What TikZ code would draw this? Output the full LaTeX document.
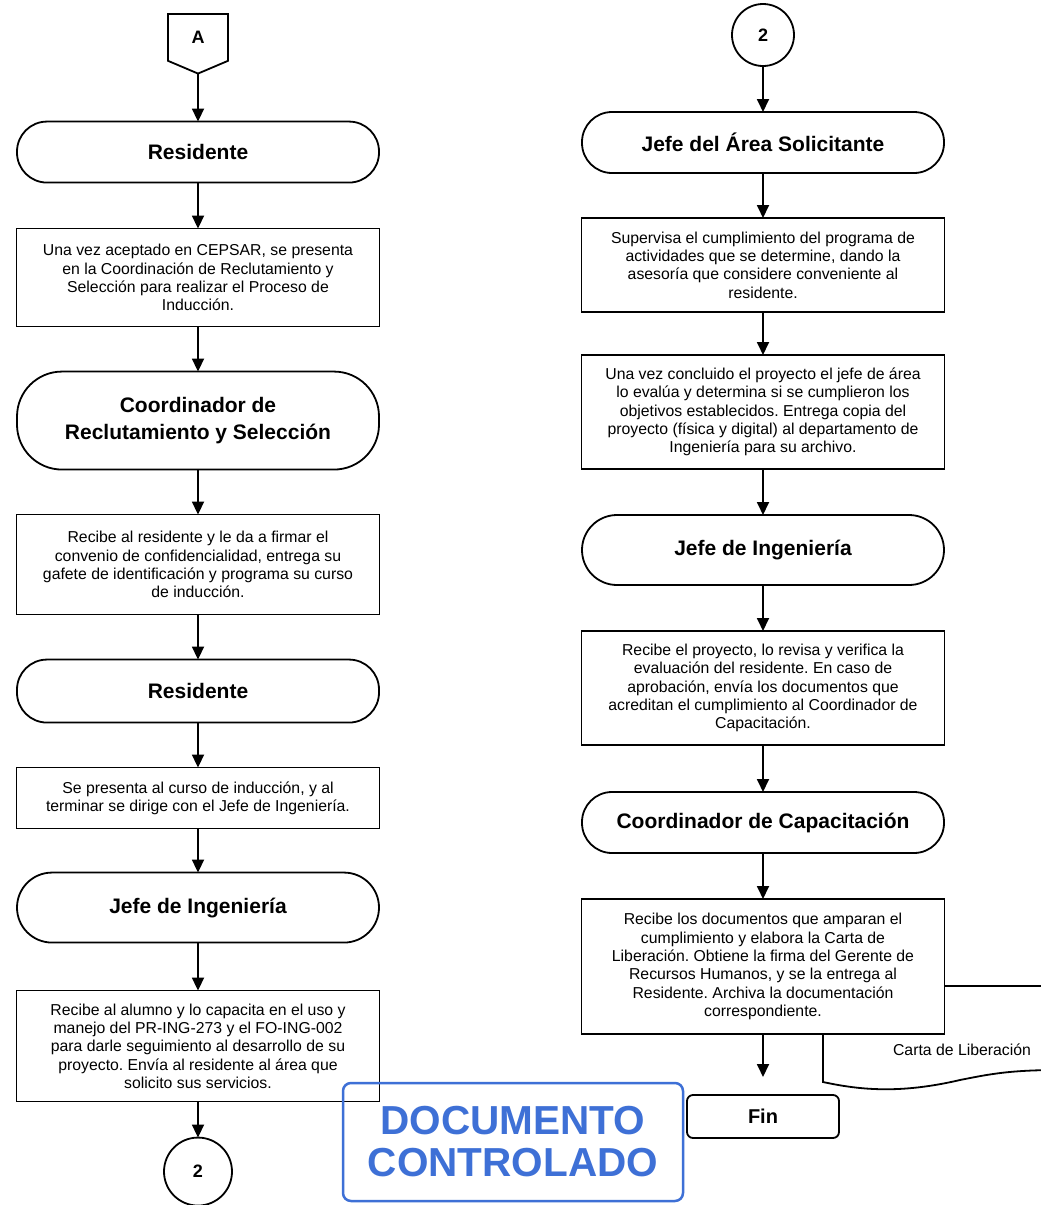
\documentclass[tikz,border=0pt]{standalone}
\usepackage{fontspec}
\setmainfont{Liberation Sans}
\usetikzlibrary{positioning, arrows.meta, shapes.symbols}

\definecolor{stampblue}{RGB}{62,112,214}
\frenchspacing

\begin{document}
\begin{tikzpicture}[
          x=1pt, y=-1pt,
          node distance=45pt,
          every node/.style={align=center, line width=1.8pt, outer sep=0pt},
          term/.style={draw, fill=white, rounded corners=30pt, minimum width=362pt, minimum height=61pt, font=\fontsize{21}{26.5}\selectfont\bfseries}, % responsible person
          actbox/.style={draw, fill=white, minimum width=363pt, inner sep=4pt, font=\fontsize{15.8}{18.3}\selectfont}, % activity
          conn/.style={draw, circle, fill=white, minimum size=62pt, font=\fontsize{18}{20}\selectfont\bfseries}, % on-page connector
          arr/.style={draw, line width=1.8pt, -{Triangle[length=13pt,width=12pt]}}
        ]
        \clip (0,0) rectangle (1041,1205);
        \fill[white] (0,0) rectangle (1041,1205);

        % left column
        \node[signal, signal to=south, signal pointer angle=134, draw, fill=white, minimum width=60pt, minimum height=51pt, anchor=north, font=\fontsize{18}{20}\selectfont\bfseries] (conA) at (198,14) {A};
        \node[term, below=48pt of conA] (res1) {Residente};
        \node[actbox, minimum height=98pt, below=46pt of res1] (act1) {Una vez aceptado en CEPSAR, se presenta\\en la Coordinación de Reclutamiento y\\Selección para realizar el Proceso de\\Inducción.};
        \node[term, minimum height=98pt, rounded corners=45pt, below=of act1] (coord) {Coordinador de\\Reclutamiento y Selección};
        \node[actbox, minimum height=100pt, below=of coord] (act2) {Recibe al residente y le da a firmar el\\convenio de confidencialidad, entrega su\\gafete de identificación y programa su curso\\de inducción.};
        \node[term, minimum height=63pt, below=of act2] (res2) {Residente};
        \node[actbox, minimum height=61pt, below=of res2] (act3) {Se presenta al curso de inducción, y al\\terminar se dirige con el Jefe de Ingeniería.};
        \node[term, minimum height=70pt, rounded corners=35pt, below=44pt of act3] (jing1) {Jefe de Ingeniería};
        \node[actbox, minimum height=111pt, below=48pt of jing1] (act4) {Recibe al alumno y lo capacita en el uso y\\manejo del PR-ING-273 y el FO-ING-002\\para darle seguimiento al desarrollo de su\\proyecto. Envía al residente al área que\\solicito sus servicios.};
        \node[conn, minimum size=68pt, below=36pt of act4] (con2a) {2};

        \draw[arr] (conA) -- (res1);
        \draw[arr] (res1) -- (act1);
        \draw[arr] (act1) -- (coord);
        \draw[arr] (coord) -- (act2);
        \draw[arr] (act2) -- (res2);
        \draw[arr] (res2) -- (act3);
        \draw[arr] (act3) -- (jing1);
        \draw[arr] (jing1) -- (act4);
        \draw[arr] (act4) -- (con2a);

        % document behind the last activity
        \draw[line width=1.8pt, fill=white] (823,986) -- (1060,986) -- (1060,1070)
          .. controls (1010,1070) and (990,1074) .. (960,1080)
          .. controls (900,1094) and (860,1090) .. (823,1082) -- cycle;
        \node[font=\fontsize{15.8}{18.3}\selectfont] (carta) at (962,1050) {Carta de Liberación};

        % right column
        \node[conn] (con2b) at (763,35) {2};
        \node[term, below=46pt of con2b] (jefeA) {Jefe del Área Solicitante};
        \node[actbox, minimum height=94pt, below=of jefeA] (act5) {Supervisa el cumplimiento del programa de\\actividades que se determine, dando la\\asesoría que considere conveniente al\\residente.};
        \node[actbox, minimum height=114pt, below=43pt of act5] (act6) {Una vez concluido el proyecto el jefe de área\\lo evalúa y determina si se cumplieron los\\objetivos establecidos. Entrega copia del\\proyecto (física y digital) al departamento de\\Ingeniería para su archivo.};
        \node[term, minimum height=70pt, rounded corners=35pt, below=46pt of act6] (jing2) {Jefe de Ingeniería};
        \node[actbox, minimum height=114pt, below=46pt of jing2] (act7) {Recibe el proyecto, lo revisa y verifica la\\evaluación del residente. En caso de\\aprobación, envía los documentos que\\acreditan el cumplimiento al Coordinador de\\Capacitación.};
        \node[term, below=47pt of act7] (coordCap) {Coordinador de Capacitación};
        \node[actbox, minimum height=135pt, below=46pt of coordCap] (act8) {Recibe los documentos que amparan el\\cumplimiento y elabora la Carta de\\Liberación. Obtiene la firma del Gerente de\\Recursos Humanos, y se la entrega al\\Residente. Archiva la documentación\\correspondiente.};
        \node[draw, fill=white, rounded corners=6pt, minimum width=152pt, minimum height=43pt, below=61pt of act8, font=\fontsize{20}{22}\selectfont\bfseries] (fin) {Fin};

        \draw[arr] (con2b) -- (jefeA);
        \draw[arr] (jefeA) -- (act5);
        \draw[arr] (act5) -- (act6);
        \draw[arr] (act6) -- (jing2);
        \draw[arr] (jing2) -- (act7);
        \draw[arr] (act7) -- (coordCap);
        \draw[arr] (coordCap) -- (act8);
        \draw[arr, shorten >=18pt] (act8) -- (fin);

        % stamp
        \node[draw=stampblue, text=stampblue, line width=2.5pt, rounded corners=8pt, minimum width=340pt, minimum height=118pt, font=\fontsize{40.5}{42}\selectfont\bfseries] (stamp) at (513,1142) {DOCUMENTO\\CONTROLADO};
        \end{tikzpicture}
\end{document}
